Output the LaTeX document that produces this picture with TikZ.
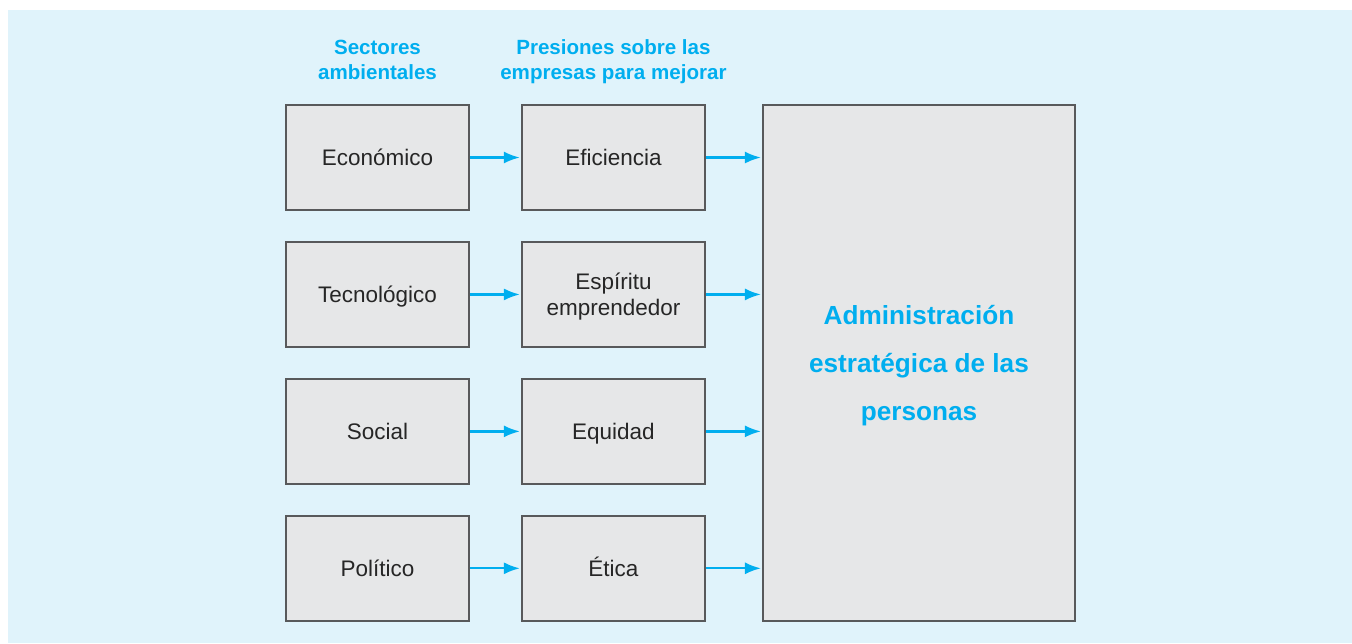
\documentclass[tikz,border=0pt]{standalone}
\usepackage{fontspec}
\setmainfont{Liberation Sans}
\usetikzlibrary{arrows.meta,positioning}
\definecolor{bgblue}{HTML}{E0F3FB}
\definecolor{boxgray}{HTML}{E6E7E8}
\definecolor{edgegray}{HTML}{58595B}
\definecolor{titleblue}{HTML}{00AEEF}

\begin{document}
\begin{tikzpicture}[
  node distance=0.6cm and 1.02cm,
  sector/.style={draw=edgegray,line width=1.1pt,fill=boxgray,minimum width=3.66cm,
                 minimum height=2.1cm,align=center,text=black!85,
                 text height=9.2pt,text depth=0pt,
                 font=\fontsize{12.8}{14.7}\selectfont},
  twoline/.style={text height=23.9pt},
  big/.style={draw=edgegray,line width=1.1pt,fill=boxgray,minimum width=6.24cm,
              minimum height=10.32cm,align=center,text=titleblue,text depth=0pt,
              font=\bfseries\fontsize{14.9}{27.2}\selectfont},
  head/.style={align=center,text=titleblue,text depth=0pt,
               font=\bfseries\fontsize{11.7}{14.2}\selectfont},
  arr/.style={-{Latex[length=3.2mm,width=2.4mm]},draw=titleblue,line width=1.3pt,
              shorten >=0.6pt}
]
\useasboundingbox (0,0) rectangle (27.04,-12.86);
\fill[bgblue] (0.16,-0.2) rectangle (27.04,-12.86);

% Sectores ambientales
\node[sector] (econ) at (7.55,-3.15) {Económico};
\node[sector, below=of econ] (tecno) {Tecnológico};
\node[sector, below=of tecno] (social) {Social};
\node[sector, below=of social] (polit) {Político};

% Presiones
\node[sector, right=of econ] (efic) {Eficiencia};
\node[sector, twoline, right=of tecno] (espir) {Espíritu\\emprendedor};
\node[sector, right=of social] (equid) {Equidad};
\node[sector, right=of polit] (etica) {Ética};

% Encabezados
\node[head, above=0.36cm of econ] (hsect) {Sectores\\ambientales};
\node[head, above=0.36cm of efic] (hpres) {Presiones sobre las\\empresas para mejorar};

% Administracion
\node[big] (admin) at (18.38,-7.26) {Administración\\estratégica de las\\personas};

% Flechas
\draw[arr] (econ) -- (efic);
\draw[arr] (tecno) -- (espir);
\draw[arr] (social) -- (equid);
\draw[arr] (polit) -- (etica);
\draw[arr] (efic.east) -- (efic.east -| admin.west);
\draw[arr] (espir.east) -- (espir.east -| admin.west);
\draw[arr] (equid.east) -- (equid.east -| admin.west);
\draw[arr] (etica.east) -- (etica.east -| admin.west);

\end{tikzpicture}
\end{document}
